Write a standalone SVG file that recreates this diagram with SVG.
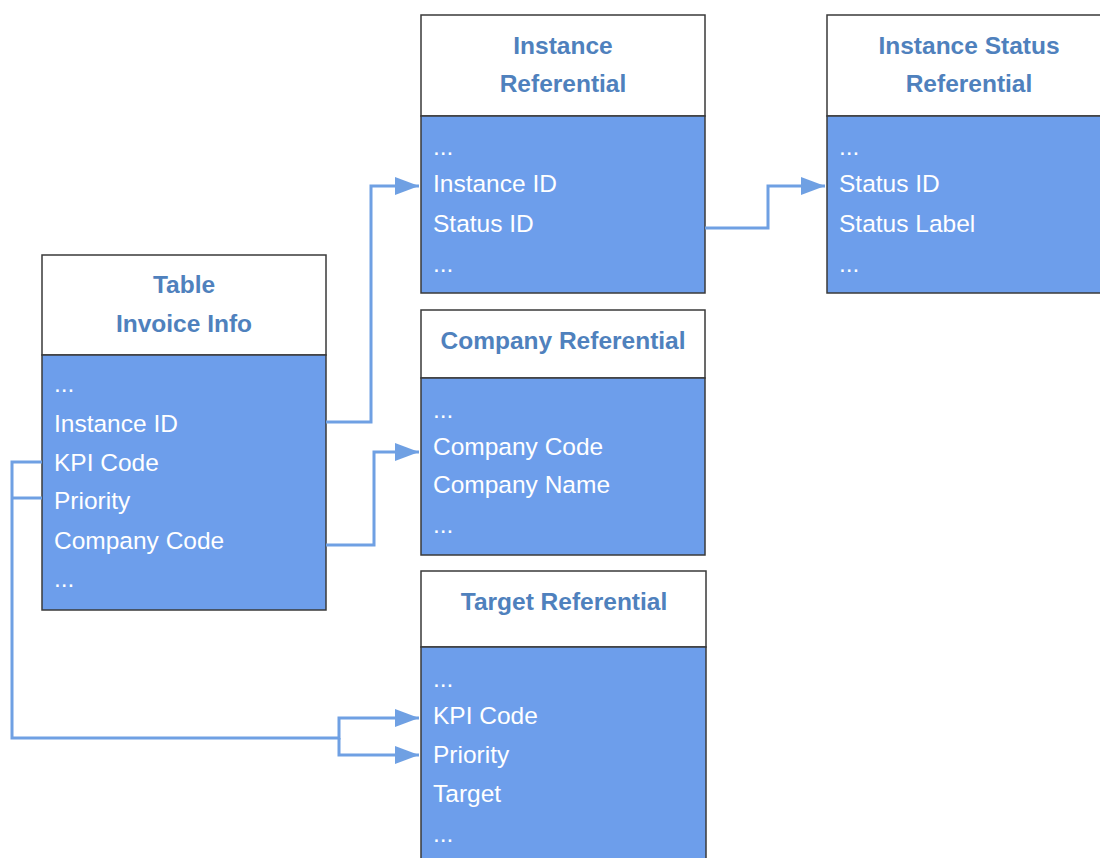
<svg xmlns="http://www.w3.org/2000/svg" width="1100" height="858" viewBox="0 0 1100 858">
<style>
.hd{fill:#ffffff;stroke:#3a3a3a;stroke-width:1.5}
.bd{fill:#6d9eeb;stroke:#3a3a3a;stroke-width:1.5}
.ht{font-family:"Liberation Sans",Arial,sans-serif;font-size:24.5px;font-weight:bold;fill:#4f81bd;text-anchor:middle}
.bt{font-family:"Liberation Sans",Arial,sans-serif;font-size:24.5px;fill:#ffffff}
.ln{fill:none;stroke:#6fa0e3;stroke-width:3}
</style>
<defs>
<marker id="ah" markerWidth="8" markerHeight="6" refX="8" refY="3" orient="auto" markerUnits="strokeWidth">
<path d="M0,0 L8,3 L0,6 Z" fill="#6fa0e3"/>
</marker>
</defs>
<rect width="1100" height="858" fill="#ffffff"/>
<g id="invoice">
<rect class="hd" x="42" y="255" width="284" height="100"/>
<rect class="bd" x="42" y="355" width="284" height="255"/>
<text class="ht" x="184" y="293">Table</text>
<text class="ht" x="184" y="332">Invoice Info</text>
<text class="bt" x="54" y="392">...</text>
<text class="bt" x="54" y="432">Instance ID</text>
<text class="bt" x="54" y="471">KPI Code</text>
<text class="bt" x="54" y="509">Priority</text>
<text class="bt" x="54" y="549">Company Code</text>
<text class="bt" x="54" y="587">...</text>
</g>
<g id="instance-ref">
<rect class="hd" x="421" y="15" width="284" height="101"/>
<rect class="bd" x="421" y="116" width="284" height="177"/>
<text class="ht" x="563" y="54">Instance</text>
<text class="ht" x="563" y="92">Referential</text>
<text class="bt" x="433" y="155">...</text>
<text class="bt" x="433" y="192">Instance ID</text>
<text class="bt" x="433" y="232">Status ID</text>
<text class="bt" x="433" y="272">...</text>
</g>
<g id="status-ref">
<rect class="hd" x="827" y="15" width="284" height="101"/>
<rect class="bd" x="827" y="116" width="284" height="177"/>
<text class="ht" x="969" y="54">Instance Status</text>
<text class="ht" x="969" y="92">Referential</text>
<text class="bt" x="839" y="155">...</text>
<text class="bt" x="839" y="192">Status ID</text>
<text class="bt" x="839" y="232">Status Label</text>
<text class="bt" x="839" y="272">...</text>
</g>
<g id="company-ref">
<rect class="hd" x="421" y="310" width="284" height="68"/>
<rect class="bd" x="421" y="378" width="284" height="177"/>
<text class="ht" x="563" y="349">Company Referential</text>
<text class="bt" x="433" y="418">...</text>
<text class="bt" x="433" y="455">Company Code</text>
<text class="bt" x="433" y="493">Company Name</text>
<text class="bt" x="433" y="533">...</text>
</g>
<g id="target-ref">
<rect class="hd" x="421" y="571" width="285" height="76"/>
<rect class="bd" x="421" y="647" width="285" height="220"/>
<text class="ht" x="564" y="610">Target Referential</text>
<text class="bt" x="433" y="687">...</text>
<text class="bt" x="433" y="724">KPI Code</text>
<text class="bt" x="433" y="763">Priority</text>
<text class="bt" x="433" y="802">Target</text>
<text class="bt" x="433" y="842">...</text>
</g>
<g id="connectors">
<path class="ln" d="M326,422 H371 V186 H419" marker-end="url(#ah)"/>
<path class="ln" d="M326,545 H374 V452 H419" marker-end="url(#ah)"/>
<path class="ln" d="M705,228 H768 V186 H825" marker-end="url(#ah)"/>
<path class="ln" d="M42,462 H12 V738 H339 V718 H419" marker-end="url(#ah)"/>
<path class="ln" d="M42,498 H12"/>
<path class="ln" d="M339,738 V755 H419" marker-end="url(#ah)"/>
</g>
</svg>
